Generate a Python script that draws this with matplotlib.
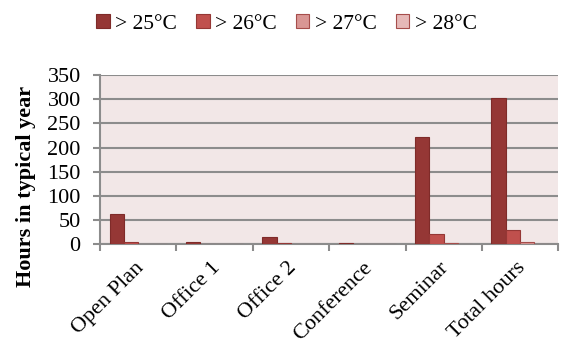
import numpy as np
import matplotlib
matplotlib.use("Agg")
import matplotlib.pyplot as plt
import matplotlib.transforms as mtransforms

plt.rcParams['font.family'] = ['Liberation Serif', 'DejaVu Serif']

rooms = ["Open Plan", "Office 1", "Office 2", "Conference", "Seminar", "Total hours"]
series_names = ["> 25°C", "> 26°C", "> 27°C", "> 28°C"]
over_25 = [62, 4, 14, 3, 221, 302]
over_26 = [5, 1, 3, 0, 22, 30]
over_27 = [1, 0, 0, 0, 2, 4]
over_28 = [0, 0, 0, 0, 0, 0]
series = [over_25, over_26, over_27, over_28]

fills = ["#953735", "#c0504d", "#d99694", "#e6b9b8"]
edges = ["#7f2b29", "#953735", "#a64d4b", "#a64d4b"]

fig = plt.figure(figsize=(5.69, 3.54), dpi=100)
ax = fig.add_axes([0.176, 0.31, 0.805, 0.478])
ax.set_facecolor("#f2e7e7")

x = np.arange(len(rooms))
w = 0.187
for i, vals in enumerate(series):
    ax.bar(x + (i - 1.5) * w, vals, w, color=fills[i], edgecolor=edges[i],
           linewidth=0.8, label=series_names[i], zorder=3)

ax.set_xlim(-0.5, len(rooms) - 0.5)
ax.set_ylim(0, 350)
ax.set_yticks(range(0, 351, 50))
ax.yaxis.grid(True, color="#8c8c8c", linewidth=1.5, zorder=1)
ax.set_axisbelow(True)

for s in ["top", "right"]:
    ax.spines[s].set_visible(False)
for s in ["left", "bottom"]:
    ax.spines[s].set_color("#8c8c8c")
    ax.spines[s].set_linewidth(1.5)

# category boundaries get the tick marks, names sit between them
ax.set_xticks(np.arange(-0.5, len(rooms), 1.0), minor=False)
ax.set_xticklabels([])
ax.set_xticks(x, minor=True)
ax.set_xticklabels(rooms, minor=True, rotation=45, ha="right",
                   rotation_mode="anchor", fontsize=16)
ax.tick_params(axis="x", which="minor", length=0, pad=10)
ax.tick_params(axis="x", which="major", length=5, width=1.5, color="#8c8c8c")
ax.tick_params(axis="y", length=5, width=1.5, color="#8c8c8c", labelsize=16, pad=9)

shift = mtransforms.ScaledTranslation(-3 / 72, 0, fig.dpi_scale_trans)
for lbl in ax.get_xticklabels(minor=True):
    lbl.set_transform(lbl.get_transform() + shift)

ax.set_ylabel("Hours in typical year", fontsize=16, fontweight="bold")
ax.yaxis.set_label_coords(-0.14, 0.34)

leg = fig.legend(loc="upper center", bbox_to_anchor=(0.5035, 1.015), ncol=4,
                 frameon=False, fontsize=15.5, handlelength=0.62, handleheight=0.62,
                 handletextpad=0.25, columnspacing=0.9)

fig.savefig("out.png", dpi=100)
